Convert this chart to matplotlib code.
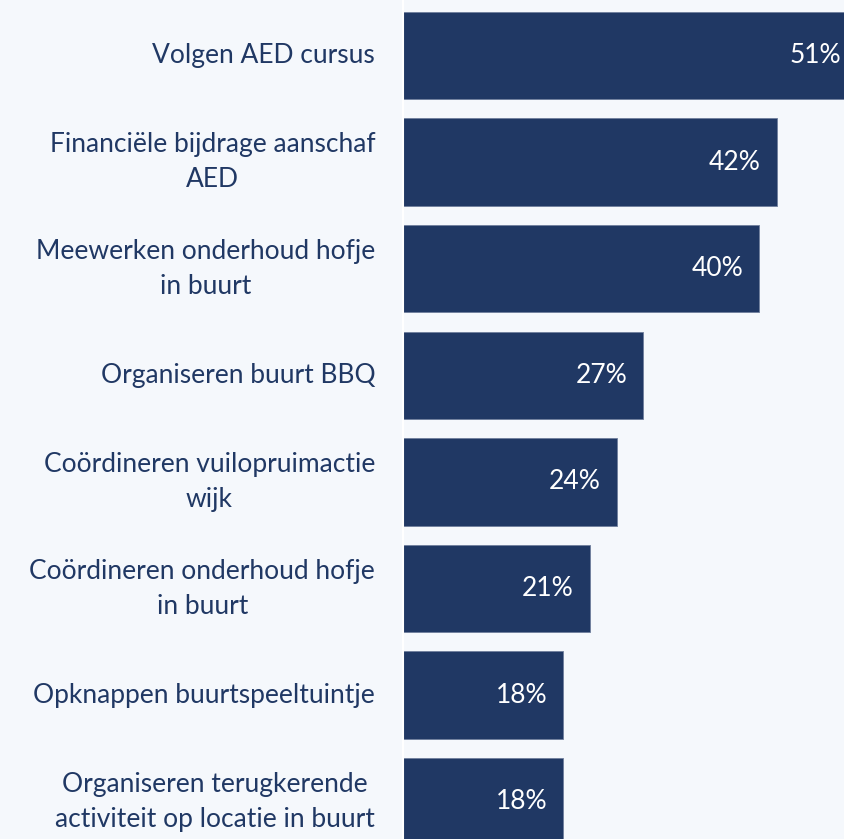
import matplotlib
matplotlib.use("Agg")
import matplotlib.pyplot as plt

categories = [
    "Volgen AED cursus",
    "Financiële bijdrage aanschaf\nAED",
    "Meewerken onderhoud hofje\nin buurt",
    "Organiseren buurt BBQ",
    "Coördineren vuilopruimactie\nwijk",
    "Coördineren onderhoud hofje\nin buurt",
    "Opknappen buurtspeeltuintje",
    "Organiseren terugkerende\nactiviteit op locatie in buurt",
]
values = [51, 42, 40, 27, 24, 21, 18, 18]
value_labels = ["51%", "42%", "40%", "27%", "24%", "21%", "18%", "18%"]

BG = "#f5f8fc"
BAR = "#203864"
TEXT = "#203864"
FONT = "Lato"

fig = plt.figure(figsize=(8.44, 8.39), dpi=100, facecolor=BG)
ax = fig.add_axes([403 / 844, 0.0, 1 - 403 / 844, 1.0])
ax.set_facecolor(BG)

y = list(range(len(categories)))
ax.barh(y, values, height=0.82, color=BAR, edgecolor="#6f7f9c", linewidth=0.6)

ax.set_xlim(0, 441 / 8.9)
ax.set_ylim(7.35, -0.521)

for spine in ["top", "right", "bottom"]:
    ax.spines[spine].set_visible(False)
ax.spines["left"].set_color("white")
ax.spines["left"].set_linewidth(1.5)
ax.set_xticks([])
ax.set_yticks([])

for yi, cat in zip(y, categories):
    ax.annotate(cat, xy=(0, yi), xytext=(-20, 0), textcoords="offset points",
                ha="right", va="center", ma="center", fontsize=19,
                color=TEXT, family=FONT, linespacing=1.5, annotation_clip=False)

for yi, v, lab in zip(y, values, value_labels):
    ax.annotate(lab, xy=(v, yi), xytext=(-11.5, 0), textcoords="offset points",
                ha="right", va="center", fontsize=19, color="white",
                family=FONT, annotation_clip=False)

fig.savefig("out.png", dpi=100, facecolor=BG)
